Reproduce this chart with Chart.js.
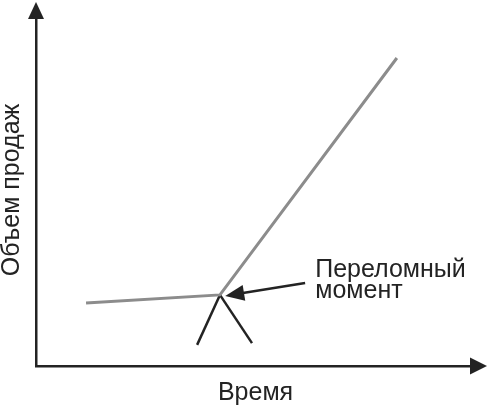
<!DOCTYPE html>
<html>
<head>
<meta charset="utf-8">
<script src="https://cdn.jsdelivr.net/npm/chart.js@4/dist/chart.umd.min.js"></script>
<style>
  html, body { margin: 0; padding: 0; background: #fff; }
  canvas { display: block; }
</style>
</head>
<body>
<canvas id="myChart" width="488" height="407"></canvas>
<script>
// sales curve: flat, then the turning point, then a steep rise
const timeValues = [11.4, 41.9, 82.2];
const salesValues = [17.9, 20.2, 87.5];

// the two legs of the "Λ" under the turning point
const leftLegTime = [41.9, 36.7];
const leftLegSales = [20.2, 6.0];
const rightLegTime = [41.9, 49.2];
const rightLegSales = [20.2, 6.5];

// annotation: arrow from the label to the turning point
const noteLines = ["Переломный", "момент"];
const noteAt = [63.6, 25.3];
const noteLineStep = 6.0;
const arrowFrom = [61.3, 23.6];
const arrowTo = [43.1, 19.9];

const xTitle = "Время";
const yTitle = "Объем продаж";

const toPoints = (xs, ys) => xs.map((x, i) => ({ x, y: ys[i] }));

const ink = "#232323";
const fontFamily = "'Liberation Sans', Arial, sans-serif";

function head(ctx, tipX, tipY, angle, len, half) {
  ctx.save();
  ctx.translate(tipX, tipY);
  ctx.rotate(angle);
  ctx.beginPath();
  ctx.moveTo(0, 0);
  ctx.lineTo(-len, -half);
  ctx.lineTo(-len, half);
  ctx.closePath();
  ctx.fill();
  ctx.restore();
}

const arrowsPlugin = {
  id: "arrows",
  afterDraw(chart) {
    const { ctx, chartArea, scales } = chart;
    const { x, y } = scales;
    ctx.save();
    ctx.fillStyle = ink;
    ctx.strokeStyle = ink;
    ctx.lineWidth = 2.5;

    // axis arrowheads
    ctx.beginPath();
    ctx.moveTo(chartArea.left, chartArea.top);
    ctx.lineTo(chartArea.left, 12);
    ctx.moveTo(chartArea.right, chartArea.bottom);
    ctx.lineTo(478, chartArea.bottom);
    ctx.stroke();
    head(ctx, chartArea.left, 2, -Math.PI / 2, 17, 8);
    head(ctx, 487, chartArea.bottom, 0, 17, 8.5);

    // annotation arrow
    const fx = x.getPixelForValue(arrowFrom[0]);
    const fy = y.getPixelForValue(arrowFrom[1]);
    const tx = x.getPixelForValue(arrowTo[0]);
    const ty = y.getPixelForValue(arrowTo[1]);
    const ang = Math.atan2(ty - fy, tx - fx);
    ctx.beginPath();
    ctx.moveTo(fx, fy);
    ctx.lineTo(tx - Math.cos(ang) * 10, ty - Math.sin(ang) * 10);
    ctx.stroke();
    head(ctx, tx, ty, ang, 19, 8);

    // annotation text
    ctx.font = "25px " + fontFamily;
    ctx.textBaseline = "alphabetic";
    ctx.textAlign = "left";
    noteLines.forEach((t, i) => {
      ctx.fillText(t, x.getPixelForValue(noteAt[0]), y.getPixelForValue(noteAt[1] - i * noteLineStep));
    });
    ctx.restore();
  }
};

const ctx = document.getElementById("myChart").getContext("2d");

new Chart(ctx, {
  type: "line",
  data: {
    datasets: [
      {
        data: toPoints(timeValues, salesValues),
        borderColor: "#8c8c8c",
        borderWidth: 3,
      },
      {
        data: toPoints(leftLegTime, leftLegSales),
        borderColor: ink,
        borderWidth: 2.5,
      },
      {
        data: toPoints(rightLegTime, rightLegSales),
        borderColor: ink,
        borderWidth: 2.5,
      },
    ],
  },
  options: {
    responsive: false,
    animation: false,
    devicePixelRatio: 1,
    layout: { padding: { top: 14, right: 13, bottom: 0, left: 0 } },
    elements: {
      point: { radius: 0 },
      line: { tension: 0, borderCapStyle: "butt" },
    },
    plugins: {
      legend: { display: false },
      tooltip: { enabled: false },
    },
    scales: {
      x: {
        type: "linear",
        min: 0,
        max: 100,
        grid: { display: false, drawTicks: false },
        ticks: { display: false },
        border: { display: true, color: ink, width: 2.5 },
        title: {
          display: true,
          text: xTitle,
          color: ink,
          font: { size: 25, lineHeight: 1, family: fontFamily },
          padding: { top: 15, bottom: 1 },
        },
      },
      y: {
        type: "linear",
        min: 0,
        max: 100,
        grid: { display: false, drawTicks: false },
        ticks: { display: false },
        border: { display: true, color: ink, width: 2.5 },
        title: {
          display: true,
          text: yTitle,
          color: ink,
          font: { size: 25, lineHeight: 1, family: fontFamily },
          padding: { top: 0, bottom: 11 },
        },
      },
    },
  },
  plugins: [arrowsPlugin],
});
</script>
</body>
</html>
